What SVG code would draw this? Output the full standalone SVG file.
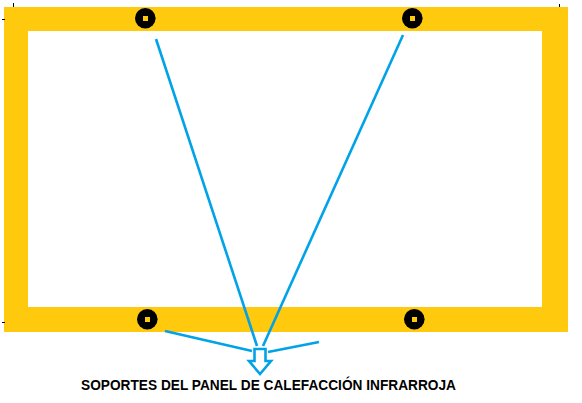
<svg xmlns="http://www.w3.org/2000/svg" width="582" height="403" viewBox="0 0 582 403">
<style>
.frame{fill:#ffc90e;fill-rule:evenodd}
.hole{fill:#000}
.dot{fill:#ffc90e}
.conn{stroke:#00a2e8;stroke-width:2.6;fill:none;stroke-linecap:butt}
.tick{stroke:#000;stroke-width:1}
.label{font-family:"Liberation Sans",Arial,sans-serif;font-weight:bold;font-size:14px;fill:#000}
</style>
<rect width="582" height="403" fill="#fff"/>
<g id="frame">
<path class="frame" d="M4 7H568V332H4Z M28 31V307H542V31Z"/>
<line class="tick" x1="13.5" y1="3" x2="13.5" y2="7"/>
<line class="tick" x1="2" y1="19.5" x2="5" y2="19.5"/>
<line class="tick" x1="559.5" y1="4" x2="559.5" y2="7"/>
<line class="tick" x1="2" y1="322.5" x2="5" y2="322.5"/>
</g>
<g id="support-top-left"><circle class="hole" cx="145.3" cy="18.3" r="10.3"/><rect class="dot" x="143" y="16" width="5" height="5"/></g>
<g id="support-top-right"><circle class="hole" cx="412.3" cy="18.3" r="10.3"/><rect class="dot" x="410" y="16" width="5" height="5"/></g>
<g id="support-bottom-left"><circle class="hole" cx="147.3" cy="319.3" r="10.3"/><rect class="dot" x="145" y="317" width="5" height="5"/></g>
<g id="support-bottom-right"><circle class="hole" cx="414.3" cy="319.3" r="10.3"/><rect class="dot" x="412" y="317" width="5" height="5"/></g>
<g id="connectors">
<line class="conn" x1="156" y1="39" x2="257" y2="346"/>
<line class="conn" x1="403" y1="35" x2="263" y2="346"/>
<line class="conn" x1="165" y1="331" x2="252" y2="351"/>
<line class="conn" x1="319" y1="342" x2="268" y2="352"/>
<polygon class="conn" points="254.5,349 265.5,349 265.5,361 271,361 260,374 249,361 254.5,361"/>
</g>
<g id="caption">
<text class="label" x="81" y="390" textLength="375" lengthAdjust="spacingAndGlyphs">SOPORTES DEL PANEL DE CALEFACCIÓN INFRARROJA</text>
</g>
</svg>
